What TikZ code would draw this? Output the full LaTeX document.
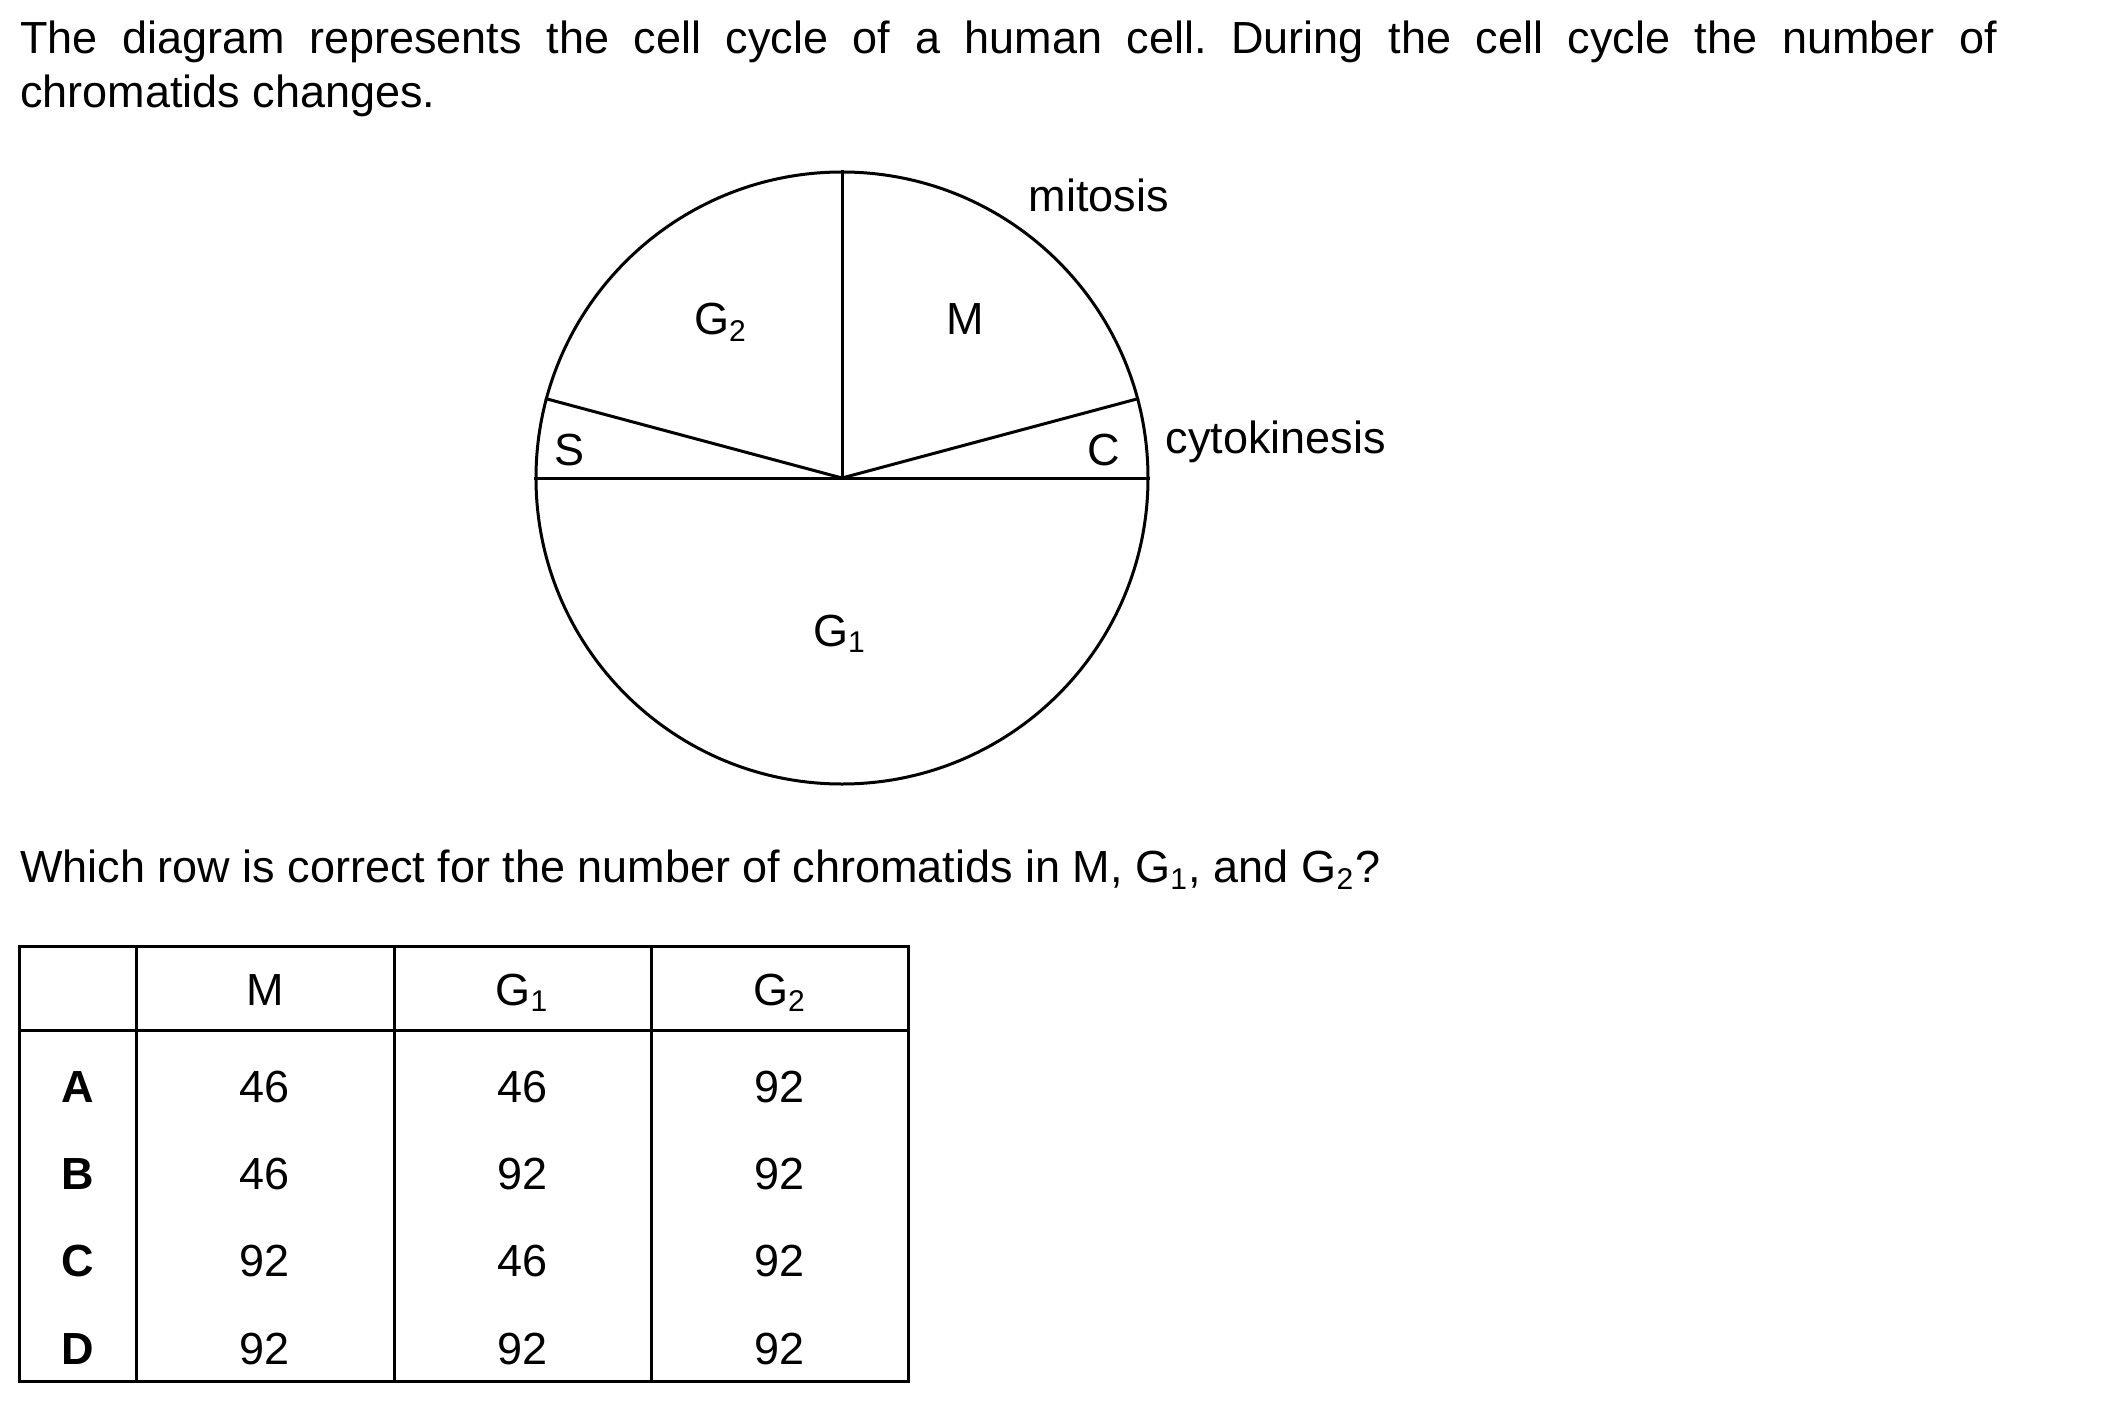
\documentclass[tikz,border=0pt]{standalone}
\usepackage{fontspec}
\setmainfont{Liberation Sans}
\usetikzlibrary{positioning}
\frenchspacing
\tikzset{
  txt/.style={inner sep=0pt,font=\fontsize{12}{14.3}\selectfont},
  lbl/.style={txt,anchor=base},
  boldlbl/.style={lbl,font=\fontsize{12}{14.3}\selectfont\bfseries},
  bline/.style={line width=0.8pt}
}
\newcommand{\Gsub}[1]{G\textsubscript{#1}}

\begin{document}
\begin{tikzpicture}[x=0.26667pt,y=-0.26667pt]
\useasboundingbox (0,0) rectangle (2101,1403);
% question stem
\node[txt,anchor=base west,text width=527.2pt,align=justify] (stem) at (19.3,54)
  {The diagram represents the cell cycle of a human cell. During the cell cycle the number of\linebreak chromatids changes.};
% cell cycle circle
\node[circle,draw,bline,minimum size=163.2pt,inner sep=0pt] (cell) at (842,478) {};
\draw[bline] (cell.west) -- (cell.east);
\draw[bline] (cell.center) -- (cell.north);
\draw[bline] (cell.center) -- (cell.165);
\draw[bline] (cell.center) -- (cell.15);
\node[lbl] (g2) at (721,335) {\Gsub{2}};
\node[lbl] (m) at (965,335) {M};
\node[lbl] (s) at (569.5,465) {S};
\node[lbl] (c) at (1104,465) {C};
\node[lbl] (g1) at (840,646) {\Gsub{1}};
\node[txt,anchor=base west] (mitosis) at (1028,211.7) {mitosis};
\node[txt,anchor=base west] (cytokinesis) at (1165,453) {cytokinesis};
% question
\node[txt,anchor=base west] (question) at (19.3,882.3)
  {Which row is correct for the number of chromatids in M, \Gsub{1}, and \Gsub{2}?};
% table
\draw[bline] (19,946) rectangle (908.5,1381.5);
\draw[bline] (19,1030) -- (908.5,1030);
\foreach \x in {136.7,394,651}
  \draw[bline] (\x,946) -- (\x,1381.5);
\node[lbl] (hm) at (265,1005) {M};
\node[lbl] (hga) at (522.5,1005) {\Gsub{1}};
\node[lbl] (hgb) at (780,1005) {\Gsub{2}};
\foreach \r/\m/\ga/\gb [count=\i from 0] in {A/46/46/92,B/46/92/92,C/92/46/92,D/92/92/92}{
  \node[boldlbl] (row\r) at (77.7,{1102.5+87.2*\i}) {\r};
  \node[lbl] (m\r) at (265,{1102.5+87.2*\i}) {\m};
  \node[lbl] (ga\r) at (522.5,{1102.5+87.2*\i}) {\ga};
  \node[lbl] (gb\r) at (780,{1102.5+87.2*\i}) {\gb};
}
\end{tikzpicture}
\end{document}
